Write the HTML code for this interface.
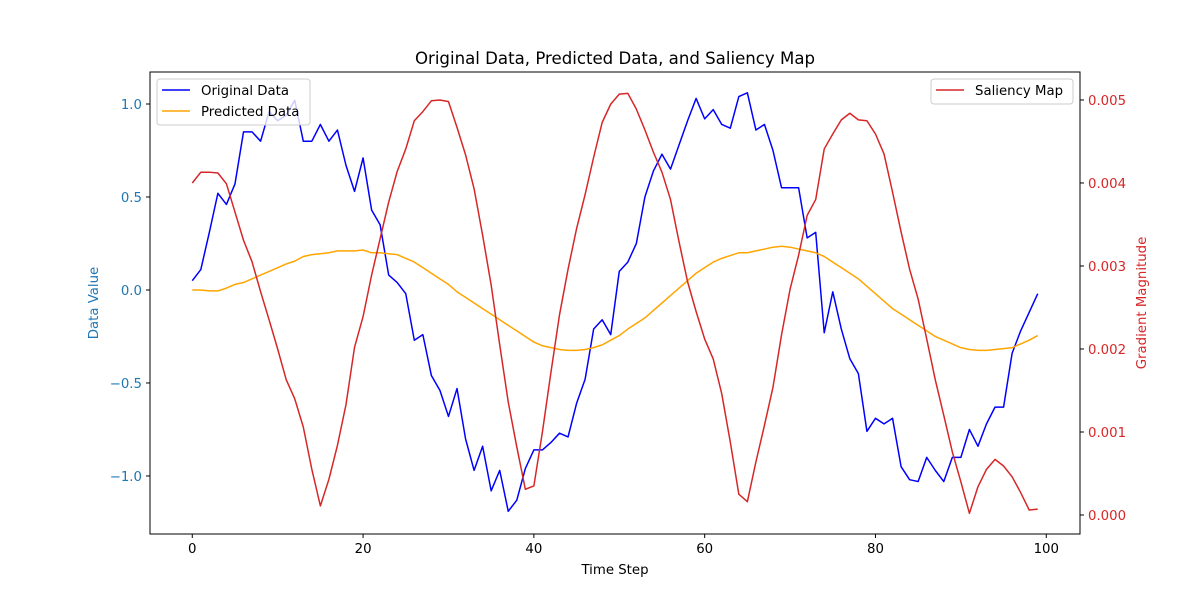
<!DOCTYPE html>
<html><head><meta charset="utf-8"><style>
body{margin:0;background:#fff}
svg{display:block;font-family:"DejaVu Sans","Liberation Sans",sans-serif}
</style></head><body>
<svg id="chart" width="1200" height="600" viewBox="0 0 1200 600">
<rect width="1200" height="600" fill="#fff"/>
<text x="615" y="64" font-size="16.6" text-anchor="middle">Original Data, Predicted Data, and Saliency Map</text>
<g id="plot"></g>
<rect x="150" y="72" width="930" height="462" fill="none" stroke="#000" stroke-width="1"/>
<text x="615" y="574" font-size="13.3" text-anchor="middle">Time Step</text>
<text transform="translate(98,303) rotate(-90)" font-size="13.3" fill="#1f77b4" text-anchor="middle">Data Value</text>
<text transform="translate(1146,303) rotate(-90)" font-size="13.3" fill="#d62728" text-anchor="middle">Gradient Magnitude</text>
<g>
<rect x="157" y="79" width="153" height="46" rx="3" fill="#fff" fill-opacity="0.8" stroke="#ccc"/>
<line x1="162" y1="90" x2="190" y2="90" stroke="#0000ff" stroke-width="1.5"/>
<text x="201" y="95" font-size="13.3">Original Data</text>
<line x1="162" y1="111" x2="190" y2="111" stroke="#ffa500" stroke-width="1.5"/>
<text x="201" y="116" font-size="13.3">Predicted Data</text>
</g>
<g>
<rect x="931" y="79" width="142" height="25" rx="3" fill="#fff" fill-opacity="0.8" stroke="#ccc"/>
<line x1="936" y1="90" x2="964" y2="90" stroke="#d62728" stroke-width="1.5"/>
<text x="975" y="95" font-size="13.3">Saliency Map</text>
</g>
</svg>
<script>
const original=[0.05,0.11,0.31,0.52,0.46,0.57,0.85,0.85,0.80,0.96,0.91,0.94,1.02,0.80,0.80,0.89,0.80,0.86,0.67,0.53,0.71,0.43,0.35,0.08,0.04,-0.02,-0.27,-0.24,-0.46,-0.54,-0.68,-0.53,-0.80,-0.97,-0.84,-1.08,-0.97,-1.19,-1.13,-0.96,-0.86,-0.86,-0.82,-0.77,-0.79,-0.61,-0.48,-0.21,-0.16,-0.24,0.10,0.15,0.25,0.50,0.64,0.73,0.65,0.78,0.91,1.03,0.92,0.97,0.89,0.87,1.04,1.06,0.86,0.89,0.75,0.55,0.55,0.55,0.28,0.31,-0.23,-0.01,-0.21,-0.37,-0.45,-0.76,-0.69,-0.72,-0.69,-0.95,-1.02,-1.03,-0.90,-0.97,-1.03,-0.90,-0.90,-0.75,-0.84,-0.72,-0.63,-0.63,-0.34,-0.22,-0.12,-0.02];
const predicted=[0.00,0.00,-0.005,-0.005,0.01,0.03,0.04,0.06,0.08,0.10,0.12,0.14,0.155,0.18,0.19,0.195,0.20,0.21,0.21,0.21,0.215,0.20,0.20,0.195,0.19,0.17,0.15,0.12,0.09,0.06,0.03,-0.01,-0.04,-0.07,-0.10,-0.13,-0.16,-0.19,-0.22,-0.25,-0.28,-0.30,-0.31,-0.32,-0.325,-0.325,-0.32,-0.31,-0.295,-0.27,-0.245,-0.21,-0.18,-0.15,-0.11,-0.07,-0.03,0.01,0.05,0.09,0.12,0.15,0.17,0.185,0.20,0.20,0.21,0.22,0.23,0.235,0.23,0.22,0.21,0.20,0.18,0.15,0.12,0.09,0.06,0.02,-0.02,-0.06,-0.10,-0.13,-0.16,-0.19,-0.22,-0.25,-0.27,-0.29,-0.31,-0.32,-0.325,-0.325,-0.32,-0.315,-0.31,-0.29,-0.27,-0.245];
const saliencyMilli=[4.00,4.13,4.13,4.12,3.99,3.65,3.31,3.05,2.69,2.35,2.00,1.63,1.40,1.06,0.55,0.11,0.43,0.84,1.33,2.02,2.39,2.89,3.33,3.77,4.14,4.41,4.75,4.86,4.99,5.00,4.98,4.67,4.34,3.93,3.37,2.77,2.05,1.36,0.82,0.31,0.35,1.00,1.72,2.41,2.96,3.45,3.86,4.31,4.73,4.95,5.07,5.08,4.89,4.64,4.37,4.13,3.80,3.29,2.81,2.45,2.12,1.88,1.46,0.88,0.25,0.16,0.64,1.08,1.54,2.17,2.72,3.13,3.61,3.80,4.41,4.59,4.76,4.84,4.76,4.75,4.59,4.35,3.89,3.41,2.96,2.60,2.12,1.63,1.20,0.76,0.40,0.02,0.34,0.55,0.67,0.59,0.46,0.27,0.06,0.07];
const xTicks=[0,20,40,60,80,100];
const leftTicks=[-1.0,-0.5,0.0,0.5,1.0];
const leftTickLabels=["−1.0","−0.5","0.0","0.5","1.0"];
const rightTicks=[0,1,2,3,4,5];
const rightTickLabels=["0.000","0.001","0.002","0.003","0.004","0.005"];

const NS="http://www.w3.org/2000/svg";
const X0=150,X1=1080,Y0=72,Y1=534;
const xMin=-4.95,xMax=103.95;
const lMin=-1.312,lMax=1.172;
const rMin=-0.229,rMax=5.337;
function xs(v){return X0+(v-xMin)/(xMax-xMin)*(X1-X0);}
function yl(v){return Y1-(v-lMin)/(lMax-lMin)*(Y1-Y0);}
function yr(v){return Y1-(v-rMin)/(rMax-rMin)*(Y1-Y0);}
const svg=document.getElementById('chart');
const plot=document.getElementById('plot');
function mk(tag,attrs,parent){const e=document.createElementNS(NS,tag);for(const k in attrs)e.setAttribute(k,attrs[k]);parent.appendChild(e);return e;}
function line(data,yf,color,name){
  const d=data.map((v,i)=>(i?'L':'M')+xs(i).toFixed(2)+','+yf(v).toFixed(2)).join('');
  const p=mk('path',{d:d,fill:'none',stroke:color,'stroke-width':1.5,'stroke-linejoin':'round'},plot);
  
  
}
line(original,yl,'#0000ff','original-data-line');
line(predicted,yl,'#ffa500','predicted-data-line');
line(saliencyMilli,yr,'#d62728','saliency-map-line');
xTicks.forEach(t=>{
  const x=xs(t);
  const tk=mk('line',{x1:x,y1:Y1,x2:x,y2:Y1+4,stroke:'#000'},svg);
  
  
  const tx=mk('text',{x:x,y:Y1+19,'font-size':13.3,'text-anchor':'middle'},svg);
  tx.textContent=String(t);
  
  
});
leftTicks.forEach((t,i)=>{
  const y=yl(t);
  const tk=mk('line',{x1:X0-4,y1:y,x2:X0,y2:y,stroke:'#000'},svg);
  
  
  const tx=mk('text',{x:X0-8,y:y+5,'font-size':13.3,'text-anchor':'end',fill:'#1f77b4'},svg);
  tx.textContent=leftTickLabels[i];
  
  
});
rightTicks.forEach((t,i)=>{
  const y=yr(t);
  const tk=mk('line',{x1:X1,y1:y,x2:X1+4,y2:y,stroke:'#000'},svg);
  
  
  const tx=mk('text',{x:X1+8,y:y+5,'font-size':13.3,'text-anchor':'start',fill:'#d62728'},svg);
  tx.textContent=rightTickLabels[i];
  
  
});
</script>
</body></html>
